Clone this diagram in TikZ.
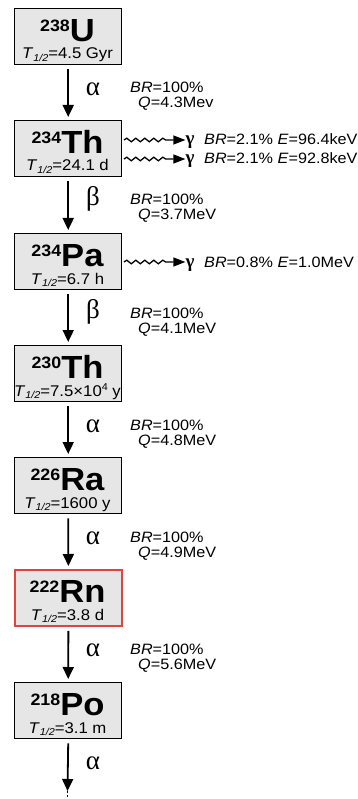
\documentclass[tikz,border=0pt]{standalone}
\usepackage{fontspec}
\setmainfont{Liberation Sans}[FakeStretch=1.08]
\newfontfamily\grk{Liberation Serif}
\usetikzlibrary{arrows.meta,decorations.pathmorphing}
\definecolor{boxgray}{HTML}{E6E6E6}
\definecolor{rnred}{HTML}{E0453C}
\newcommand{\iso}[2]{{\fontsize{16.5}{16.5}\selectfont\bfseries\raisebox{10pt}{#1}}{\fontsize{32}{32}\selectfont\bfseries #2}}
\newcommand{\thalf}[1]{{\fontsize{15.5}{15.5}\selectfont\textit{T}\raisebox{-2.5pt}{\fontsize{10}{10}\selectfont\textit{1/2}}=#1}}
\newcommand{\grsym}[1]{{\grk\fontsize{27}{27}\selectfont #1}}
\newcommand{\gsym}{{\grk\bfseries\fontsize{19}{19}\selectfont γ}}
\begin{document}
\begin{tikzpicture}[x=1pt,y=-1pt,
  nucbox/.style={draw=black, line width=1.4pt, fill=boxgray, minimum width=107pt, minimum height=56pt, inner sep=0pt, anchor=north west},
  symtxt/.style={anchor=base, inner sep=0pt},
  decay/.style={-{Triangle[length=12pt,width=11pt]}, line width=1.8pt},
  gam/.style={line width=1.3pt, -{Triangle[length=12pt,width=9pt]}, decoration={snake, amplitude=1.8pt, segment length=9pt}},
  lab/.style={anchor=base west, inner sep=0pt, font=\fontsize{15}{15}\selectfont},
  glab/.style={anchor=center, inner sep=0pt, text height=9pt, text depth=0pt}
]
\useasboundingbox (0,0) rectangle (358,799);

% boxes
\node[nucbox] (U) at (14,8) {};
\node[nucbox] (Th) at (14,120) {};
\node[nucbox] (Pa) at (14,233) {};
\node[nucbox] (Tht) at (14,345) {};
\node[nucbox] (Ra) at (14,457) {};
\node[nucbox, draw=rnred, line width=1.8pt] (Rn) at (14,569) {};
\node[nucbox] (Po) at (14,682) {};

% box texts
\node[symtxt] (Us) at (67.5,41.5) {\iso{238}{U}};
\node[symtxt] (Ut) at (67.5,59) {\thalf{4.5 Gyr}};
\node[symtxt] (Ths) at (67.5,153.5) {\iso{234}{Th}};
\node[symtxt] (Tht1) at (67.5,171) {\thalf{24.1 d}};
\node[symtxt] (Pas) at (67.5,266.5) {\iso{234}{Pa}};
\node[symtxt] (Pat) at (67.5,284) {\thalf{6.7 h}};
\node[symtxt] (Thts) at (67.5,378.5) {\iso{230}{Th}};
\node[symtxt] (Thtt) at (67.5,396) {\thalf{7.5\texttimes10\raisebox{5.5pt}{\fontsize{10}{10}\selectfont 4} y}};
\node[symtxt] (Ras) at (67.5,490.5) {\iso{226}{Ra}};
\node[symtxt] (Rat) at (67.5,508) {\thalf{1600 y}};
\node[symtxt] (Rns) at (67.5,602.5) {\iso{222}{Rn}};
\node[symtxt] (Rnt) at (67.5,620) {\thalf{3.8 d}};
\node[symtxt] (Pos) at (67.5,715.5) {\iso{218}{Po}};
\node[symtxt] (Pot) at (67.5,733) {\thalf{3.1 m}};

% decay arrows
\draw[decay] ([yshift=-4pt]U.south) -- ([yshift=3pt]Th.north);
\draw[decay] ([yshift=-4pt]Th.south) -- ([yshift=3pt]Pa.north);
\draw[decay] ([yshift=-4pt]Pa.south) -- ([yshift=3pt]Tht.north);
\draw[decay] ([yshift=-4pt]Tht.south) -- ([yshift=3pt]Ra.north);
\draw[decay] ([yshift=-4pt]Ra.south) -- ([yshift=3pt]Rn.north);
\draw[decay] ([yshift=-4pt]Rn.south) -- ([yshift=3pt]Po.north);
\coordinate (end) at (67.5,791);
\coordinate (endd) at (67.5,799);
\draw[decay] ([yshift=-4pt]Po.south) -- (end);
\draw[line width=1.8pt, dotted] (end) -- (endd);

% decay labels
\node[glab] (g1) at (93,91) {\grsym{α}};
\node[glab] (g2) at (93,201) {\grsym{β}};
\node[glab] (g3) at (93,314) {\grsym{β}};
\node[glab] (g4) at (93,428) {\grsym{α}};
\node[glab] (g5) at (93,540) {\grsym{α}};
\node[glab] (g6) at (93,652) {\grsym{α}};
\node[glab] (g7) at (93,765) {\grsym{α}};

% BR / Q labels
\node[lab] (b1) at (130,93) {\textit{BR}=100\%};
\node[lab] (q1) at (138,108) {\textit{Q}=4.3Mev};
\node[lab] (b2) at (130,205) {\textit{BR}=100\%};
\node[lab] (q2) at (138,220) {\textit{Q}=3.7MeV};
\node[lab] (b3) at (130,318) {\textit{BR}=100\%};
\node[lab] (q3) at (138,333) {\textit{Q}=4.1MeV};
\node[lab] (b4) at (130,430) {\textit{BR}=100\%};
\node[lab] (q4) at (138,445) {\textit{Q}=4.8MeV};
\node[lab] (b5) at (130,542) {\textit{BR}=100\%};
\node[lab] (q5) at (138,557) {\textit{Q}=4.9MeV};
\node[lab] (b6) at (130,654) {\textit{BR}=100\%};
\node[lab] (q6) at (138,669) {\textit{Q}=5.6MeV};

% gamma emissions
\node[glab, text height=6pt] (ga1) at (190,142) {\gsym};
\node[glab, text height=6pt] (ga2) at (190,161) {\gsym};
\node[glab, text height=6pt] (ga3) at (190,264) {\gsym};
\coordinate (w1) at (124,140);
\coordinate (w2) at (124,159);
\coordinate (w3) at (124,262);
\draw[gam] (w1) decorate {-- ++(45,0)} -- (w1 -| ga1.west);
\draw[gam] (w2) decorate {-- ++(45,0)} -- (w2 -| ga2.west);
\draw[gam] (w3) decorate {-- ++(45,0)} -- (w3 -| ga3.west);
\node[lab, anchor=base west] (e1) at (204,145) {\textit{BR}=2.1\% \textit{E}=96.4keV};
\node[lab, anchor=base west] (e2) at (204,164) {\textit{BR}=2.1\% \textit{E}=92.8keV};
\node[lab, anchor=base west] (e3) at (204,267) {\textit{BR}=0.8\% \textit{E}=1.0MeV};
\end{tikzpicture}
\end{document}
